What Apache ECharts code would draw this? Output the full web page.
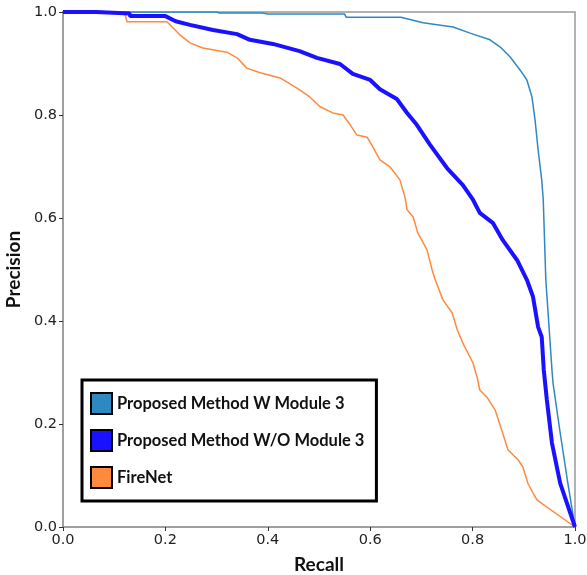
<!DOCTYPE html>
<html>
<head>
<meta charset="utf-8">
<script src="https://cdn.jsdelivr.net/npm/echarts@6/dist/echarts.min.js"></script>
<style>
html,body{margin:0;padding:0;background:#fff;}
#chart{width:587px;height:575px;}
</style>
</head>
<body>
<div id="chart"></div>
<script>
var tickLabels = ['0.0', '0.2', '0.4', '0.6', '0.8', '1.0'];
var seriesNames = ['Proposed Method W Module 3', 'Proposed Method W/O Module 3', 'FireNet'];

var recallW = [0, 0.3, 0.305, 0.39, 0.4, 0.55, 0.553, 0.66, 0.703, 0.762, 0.795, 0.834, 0.854, 0.873, 0.893, 0.906, 0.916, 0.922, 0.928, 0.935, 0.938, 0.943, 0.955, 0.957, 0.971, 0.986, 1.0];
var precisionW = [1, 1, 0.998, 0.998, 0.996, 0.996, 0.99, 0.99, 0.979, 0.971, 0.959, 0.946, 0.932, 0.913, 0.887, 0.868, 0.835, 0.79, 0.732, 0.674, 0.635, 0.48, 0.305, 0.28, 0.183, 0.085, 0.0];

var recallWO = [0, 0.065, 0.066, 0.13, 0.131, 0.2, 0.22, 0.248, 0.293, 0.34, 0.365, 0.41, 0.462, 0.496, 0.541, 0.566, 0.6, 0.619, 0.652, 0.672, 0.691, 0.717, 0.75, 0.781, 0.801, 0.814, 0.84, 0.859, 0.887, 0.906, 0.918, 0.928, 0.935, 0.939, 0.945, 0.955, 0.971, 1.0];
var precisionWO = [1, 1, 0.997, 0.997, 0.992, 0.992, 0.982, 0.975, 0.965, 0.957, 0.946, 0.938, 0.924, 0.911, 0.899, 0.880, 0.868, 0.850, 0.831, 0.804, 0.781, 0.742, 0.697, 0.664, 0.635, 0.610, 0.590, 0.557, 0.518, 0.480, 0.447, 0.388, 0.369, 0.305, 0.247, 0.163, 0.085, 0.0];

var recallFire = [0, 0.12, 0.125, 0.203, 0.219, 0.229, 0.248, 0.273, 0.32, 0.34, 0.359, 0.385, 0.424, 0.457, 0.482, 0.502, 0.527, 0.547, 0.561, 0.574, 0.594, 0.605, 0.619, 0.639, 0.658, 0.668, 0.672, 0.684, 0.693, 0.711, 0.721, 0.727, 0.742, 0.760, 0.770, 0.781, 0.801, 0.809, 0.814, 0.828, 0.844, 0.857, 0.869, 0.889, 0.898, 0.908, 0.918, 0.926, 1.0];
var precisionFire = [1, 1, 0.981, 0.981, 0.965, 0.955, 0.940, 0.930, 0.922, 0.911, 0.891, 0.882, 0.872, 0.852, 0.835, 0.816, 0.804, 0.800, 0.781, 0.761, 0.757, 0.738, 0.713, 0.699, 0.674, 0.640, 0.616, 0.602, 0.571, 0.538, 0.499, 0.480, 0.441, 0.416, 0.383, 0.357, 0.318, 0.290, 0.266, 0.252, 0.227, 0.188, 0.150, 0.130, 0.117, 0.085, 0.066, 0.052, 0.0];

function pairs(xs, ys) {
  var out = [];
  for (var i = 0; i < xs.length; i++) out.push([xs[i], ys[i]]);
  return out;
}

var chart = echarts.init(document.getElementById('chart'), null, {renderer: 'canvas'});
var axisCommon = {
  type: 'value', min: 0, max: 1, interval: 0.2,
  axisLine: {show: true, lineStyle: {color: '#999', width: 1.5}},
  axisTick: {show: true, length: 4, lineStyle: {color: '#333', width: 1}},
  splitLine: {show: false},
  axisLabel: {
    color: '#222', fontFamily: 'DejaVu Sans', fontSize: 14.5,
    formatter: function (v) { return tickLabels[Math.round(v / 0.2)]; }
  },
  nameLocation: 'middle',
  nameTextStyle: {fontFamily: 'Lato', fontWeight: 'bold', fontSize: 19, color: '#111'}
};

chart.setOption({
  animation: false,
  backgroundColor: '#fff',
  grid: {left: 63, right: 12, top: 12, bottom: 48, containLabel: false, outerBoundsMode: 'none',
         show: true, borderColor: '#999', borderWidth: 1.5},
  xAxis: Object.assign({}, axisCommon, {name: 'Recall', nameGap: 28,
    axisLabel: Object.assign({}, axisCommon.axisLabel, {margin: 6})}),
  yAxis: Object.assign({}, axisCommon, {name: 'Precision', nameGap: 38,
    axisLabel: Object.assign({}, axisCommon.axisLabel, {margin: 6})}),
  legend: {
    orient: 'vertical', left: 82, top: 380,
    icon: 'rect', itemWidth: 21, itemHeight: 21, itemGap: 14,
    padding: [12, 12, 12, 8],
    backgroundColor: '#fff', borderColor: '#000', borderWidth: 3,
    itemStyle: {borderColor: '#000', borderWidth: 2},
    textStyle: {fontFamily: 'Lato', fontWeight: 'bold', fontSize: 16.5, color: '#111'},
    data: seriesNames
  },
  series: [
    {name: seriesNames[2], type: 'line', data: pairs(recallFire, precisionFire), showSymbol: false, symbol: 'none',
     color: '#ff8a3d', lineStyle: {width: 1.5, color: '#ff8a3d'}, z: 2},
    {name: seriesNames[0], type: 'line', data: pairs(recallW, precisionW), showSymbol: false, symbol: 'none',
     color: '#2e89c2', lineStyle: {width: 1.5, color: '#2e89c2'}, z: 3},
    {name: seriesNames[1], type: 'line', data: pairs(recallWO, precisionWO), showSymbol: false, symbol: 'none',
     color: '#1a12ff', lineStyle: {width: 4, color: '#1a12ff'}, z: 4}
  ]
});
</script>
</body>
</html>
